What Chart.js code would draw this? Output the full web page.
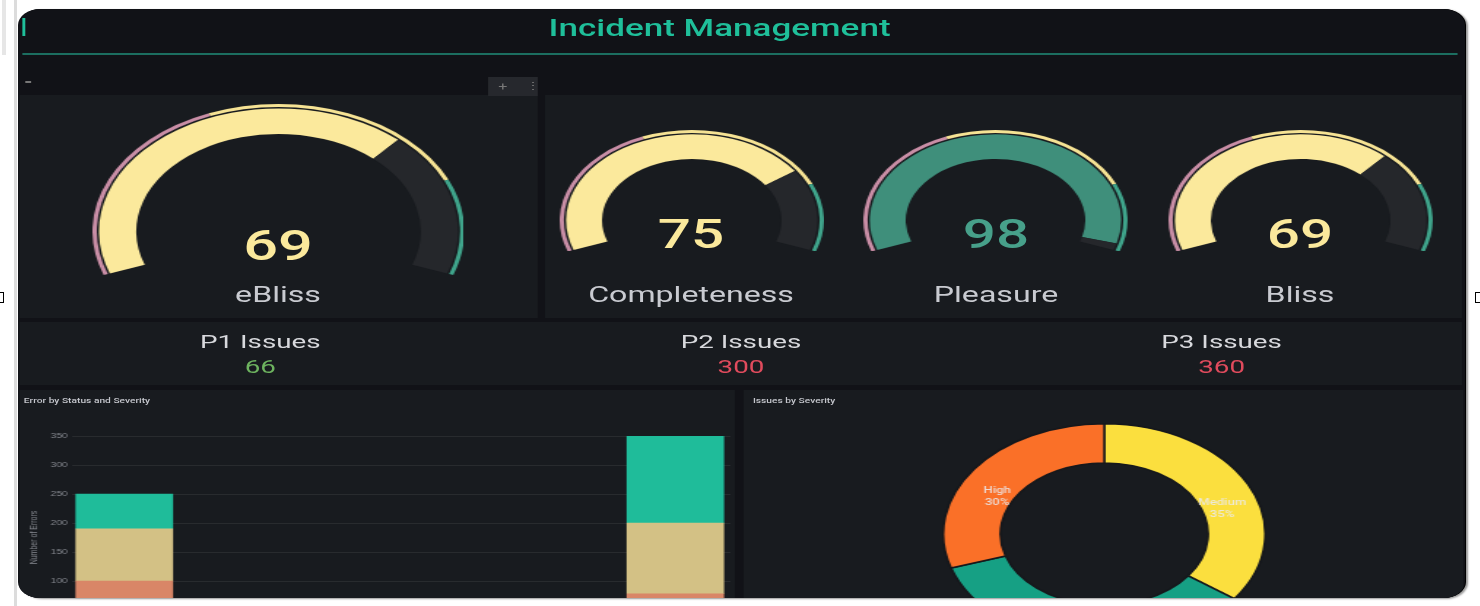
<!DOCTYPE html>
<html>
<head>
<meta charset="utf-8">
<title>Incident Management</title>
<script src="https://cdn.jsdelivr.net/npm/chart.js@4.4.0/dist/chart.umd.min.js"></script>
<style>
  html, body { margin: 0; padding: 0; width: 1480px; height: 606px; overflow: hidden; background: #fff; font-family: Roboto, "Noto Sans", sans-serif; }
  .strip { position: absolute; background: #e6e6e6; }
  .handle { position: absolute; width: 5px; height: 9px; background: #fff; border: 1px solid #000; top: 292px; }
  #frame { position: absolute; left: 18px; top: 9px; width: 1447px; height: 589px; background: #111217; border-radius: 22px 22px 22px 22px / 16px; overflow: hidden; box-shadow: 1px 0 0 #000, 3px 1px 2px #999; }
  #board { position: absolute; left: 0; top: 0; width: 991px; height: 589px; transform: scaleX(1.46); transform-origin: 0 0; }
  .abs { position: absolute; }
  .panel { position: absolute; background: #181b1f; }
  .title { position: absolute; left: 0; width: 961px; top: 5px; text-align: center; color: #1fbf9a; font-size: 24px; font-weight: 500; }
  .ptitle { position: absolute; color: #c4c6cc; font-size: 7px; font-weight: 500; }
  .center { position: absolute; transform: translate(-50%, -50%); white-space: nowrap; }
  .gval { font-weight: 500; }
  .glab { color: #c9cbd1; font-size: 22px; }
  .stat { position: absolute; top: 313px; height: 63px; text-align: center; }
  .stat .n { color: #d8d9dd; font-size: 19px; margin-top: 10px; line-height: 20px; }
  .stat .v { font-size: 19px; line-height: 20px; margin-top: 5px; }
</style>
</head>
<body>
<div class="strip" style="left:2px;top:0;width:4px;height:55px"></div>
<div class="strip" style="left:14px;top:0;width:3px;height:606px;background:#dcdcdc"></div>
<div class="handle" style="left:-3px"></div>
<div class="handle" style="left:1475px"></div>
<div id="frame"><div id="board"></div></div>

<script>
// gauges
const gaugeNames = ['eBliss', 'Completeness', 'Pleasure', 'Bliss'];
const gaugeValues = [69, 75, 98, 69];
const thresholdSteps = [40, 40, 20]; // red up to 40, yellow up to 80, green above

// stat panels
const statNames = ['P1 Issues', 'P2 Issues', 'P3 Issues'];
const statValues = [66, 300, 360];

// Error by Status and Severity (stacked)
const statusLabels = ['Open', 'Closed'];
const highErrors = [100, 78];
const mediumErrors = [90, 122];
const lowErrors = [60, 150];

// Issues by Severity
const severityLabels = ['Medium', 'Low', 'High'];
const severityShares = [35, 35, 30];

const board = document.getElementById('board');

function box(cls, x, y, w, h, extra) {
    const d = document.createElement('div');
    d.className = cls;
    d.style.left = x + 'px';
    d.style.top = y + 'px';
    if (w != null) d.style.width = w + 'px';
    if (h != null) d.style.height = h + 'px';
    if (extra) Object.assign(d.style, extra);
    board.appendChild(d);
    return d;
}

function addText(cls, x, y, text, style) {
    const d = box(cls, x, y, null, null, style);
    d.textContent = text;
    return d;
}

// header
const t = box('title', 0, 5);
t.textContent = 'Incident Management';
box('abs', 2.7, 9, 2, 18, { background: '#1fbf9a' });
box('abs', 2.7, 44, 983, 2, { background: '#1c6e60' });
box('abs', 5, 72, 4, 2, { background: '#777' });

// panels
box('panel', 1.4, 86, 354.8, 223);
box('panel', 361, 86, 628, 223);
box('panel', 1.4, 313, 987.6, 63);
box('panel', 1.4, 381, 489.6, 240);
box('panel', 496.6, 381, 493, 240);

// panel menu button
const btn = box('abs', 322, 68, 33.5, 19, { background: '#26282d', color: '#777', fontSize: '11px', lineHeight: '19px' });
btn.innerHTML = '<span style="position:absolute;left:7px">+</span><span style="position:absolute;left:25px">&#8942;</span>';

addText('ptitle', 4, 388, 'Error by Status and Severity');
addText('ptitle', 503.4, 388, 'Issues by Severity');

const pink = '#c98ea6', yellow = '#f6e394', green = '#3fa48b';
function valueColor(v) {
    if (v >= thresholdSteps[0] + thresholdSteps[1]) return '#47a08a';
    if (v >= thresholdSteps[0]) return '#fbe99c';
    return pink;
}

// gauge layout: centre x/y, outer radius, cutout, value font
const gaugeLayout = [
    { cx: 178.1, cy: 222.7, r: 127.4, cut: 76.5, vs: 42, vy: 236, ly: 285 },
    { cx: 461, cy: 211, r: 90.5, cut: 68, vs: 40, vy: 225, ly: 285 },
    { cx: 669.9, cy: 211, r: 90.5, cut: 68, vs: 40, vy: 225, ly: 285 },
    { cx: 878.1, cy: 211, r: 90.5, cut: 68, vs: 40, vy: 225, ly: 285 }
];

gaugeNames.forEach(function (name, i) {
    const g = gaugeLayout[i];
    const v = gaugeValues[i];
    const wrap = box('abs', g.cx - g.r, g.cy - g.r, g.r * 2, g.r * (1 + Math.sin(20 * Math.PI / 180)));
    const cv = document.createElement('canvas');
    wrap.appendChild(cv);
    new Chart(cv, {
        type: 'doughnut',
        data: {
            labels: ['a', 'b', 'c'],
            datasets: [
                { data: thresholdSteps, backgroundColor: [pink, yellow, green], weight: 3, borderWidth: 0 },
                { data: [100], backgroundColor: 'rgba(0,0,0,0)', weight: 1.5, borderWidth: 0 },
                { data: [v, 100 - v], backgroundColor: [valueColor(v) === '#47a08a' ? '#3f8f7b' : valueColor(v), '#25272b'], weight: 25.5, borderWidth: 0 }
            ]
        },
        options: {
            responsive: true,
            maintainAspectRatio: false,
            animation: false,
            events: [],
            rotation: -110,
            circumference: 220,
            cutout: g.cut + '%',
            plugins: { legend: { display: false }, tooltip: { enabled: false } }
        }
    });
    addText('center gval', g.cx, g.vy, String(v), { fontSize: g.vs + 'px', color: valueColor(v) });
    addText('center glab', g.cx, g.ly, name);
});

// stats
statNames.forEach(function (name, i) {
    const s = box('stat', 1.4 + i * 329.2, 313, 329.2, 63);
    const col = statValues[i] < 100 ? '#6db35f' : '#e04b5d';
    s.innerHTML = '<div class="n">' + name + '</div><div class="v" style="color:' + col + '">' + statValues[i] + '</div>';
});

// stacked bar chart
const barWrap = box('abs', 3, 417, 484.7, 223);
const barCanvas = document.createElement('canvas');
barWrap.appendChild(barCanvas);
function pts(arr) { return arr.map(function (v, i) { return { x: i, y: v }; }); }
new Chart(barCanvas, {
    type: 'bar',
    data: {
        labels: statusLabels,
        datasets: [
            { label: 'High', data: pts(highErrors), backgroundColor: '#d98667', barThickness: 66 },
            { label: 'Medium', data: pts(mediumErrors), backgroundColor: '#d3c185', barThickness: 66 },
            { label: 'Low', data: pts(lowErrors), backgroundColor: '#1fbc9a', barThickness: 66 }
        ]
    },
    options: {
        responsive: true,
        maintainAspectRatio: false,
        animation: false,
        events: [],
        layout: { padding: { top: 10, bottom: 10, left: 4, right: 0 } },
        scales: {
            x: { type: 'linear', stacked: true, offset: false, min: -0.0945, max: 1.102, display: false },
            y: {
                stacked: true, min: 0, max: 350,
                ticks: { stepSize: 50, color: '#868990', font: { size: 7 }, padding: 3 },
                grid: { color: 'rgba(255,255,255,0.07)', drawTicks: false },
                border: { display: false },
                title: { display: true, text: 'Number of Errors', color: '#868990', font: { size: 7 }, padding: 0 },
                afterFit: function (s) { s.width = 30; }
            }
        },
        plugins: { legend: { display: false }, tooltip: { enabled: false } }
    }
});

// donut
const arcLabels = {
    id: 'arcLabels',
    afterDatasetsDraw: function (chart) {
        const ctx = chart.ctx;
        const ds = chart.data.datasets[0];
        const total = ds.data.reduce(function (a, b) { return a + b; }, 0);
        chart.getDatasetMeta(0).data.forEach(function (arc, i) {
            const p = arc.tooltipPosition();
            ctx.save();
            ctx.fillStyle = 'rgba(235,235,240,0.85)';
            ctx.font = '500 9px Roboto, sans-serif';
            ctx.textAlign = 'center';
            ctx.textBaseline = 'middle';
            ctx.fillText(chart.data.labels[i], p.x, p.y + 10);
            ctx.fillText(Math.round(ds.data[i] / total * 100) + '%', p.x, p.y + 22);
            ctx.restore();
        });
    }
};
const donutWrap = box('abs', 633, 414, 222, 222);
const donutCanvas = document.createElement('canvas');
donutWrap.appendChild(donutCanvas);
new Chart(donutCanvas, {
    type: 'doughnut',
    data: {
        labels: severityLabels,
        datasets: [{
            data: severityShares,
            backgroundColor: ['#fbdf3e', '#16a084', '#fa7028'],
            borderColor: '#16181c',
            borderWidth: 1.5
        }]
    },
    options: {
        responsive: true,
        maintainAspectRatio: false,
        animation: false,
        events: [],
        cutout: '64.5%',
        plugins: { legend: { display: false }, tooltip: { enabled: false } }
    },
    plugins: [arcLabels]
});
</script>
</body>
</html>
